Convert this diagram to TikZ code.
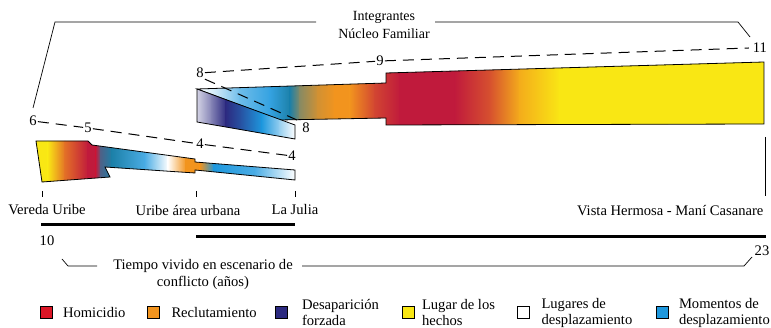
\documentclass[tikz,border=0pt]{standalone}
\usepackage{fontspec}
\setmainfont{Liberation Serif}
\usepackage{tikz}
\usetikzlibrary{positioning}
\definecolor{homC}{RGB}{220,22,38}
\definecolor{crimC}{RGB}{192,26,60}
\definecolor{recC}{RGB}{242,148,30}
\definecolor{desC}{RGB}{44,42,128}
\definecolor{hecC}{RGB}{249,231,20}
\definecolor{momC}{RGB}{30,152,222}
\definecolor{tealC}{RGB}{28,128,168}

\begin{document}
\begin{tikzpicture}[x=1pt,y=-1pt,font=\fontsize{14.6}{17}\selectfont,
  num/.style={inner sep=1pt},
  dashln/.style={dash pattern=on 11pt off 7pt,line width=1pt},
  outl/.style={draw,line width=0.8pt},
  sq/.style={draw,line width=0.6pt,minimum size=12pt,inner sep=0pt},
  legtxt/.style={align=left,inner sep=0pt,anchor=west,font=\fontsize{14.6}{16}\selectfont}]
\useasboundingbox (0,0) rectangle (771,328);
% lower band
\begin{scope}
\clip (36,141)--(88,141)--(92,145)--(195,159)--(195,162)--(295,170)--(295,180)--(195,170)--(195,173)--(105,167)--(110,177)--(42,182)--cycle;
\foreach \xa/\ca/\xb/\cb in {36/hecC/48/hecC, 48/hecC/65/recC!70!crimC, 65/recC!70!crimC/88/crimC,
  88/crimC/96/crimC, 96/crimC/101/tealC!70!crimC, 101/tealC!70!crimC/112/tealC, 112/tealC/145/momC!80!white,
  145/momC!80!white/168/white, 168/white/186/recC, 186/recC/200/recC, 200/recC/214/momC,
  214/momC/255/momC!80!white, 255/momC!80!white/295/white}
  \shade[left color=\ca,right color=\cb] (\xa-0.4,130) rectangle (\xb+0.4,190);
\end{scope}
\draw[outl] (36,141)--(88,141)--(92,145)--(195,159)--(195,162)--(295,170)--(295,180)--(195,170)--(195,173)--(105,167)--(110,177)--(42,182)--cycle;
% upper band
\begin{scope}
\clip (197,89)--(386,83)--(386,73)--(764,62)--(764,124)--(386,125)--(386,118)--(280,120)--cycle;
\foreach \xa/\ca/\xb/\cb in {197/white/215/momC!20!white, 215/momC!20!white/240/momC!65!white,
  240/momC!65!white/270/momC!90!white, 270/momC!90!white/290/tealC, 290/tealC/300/tealC!50!recC,
  300/tealC!50!recC/318/recC!85!tealC, 318/recC!85!tealC/335/recC, 335/recC/350/recC,
  350/recC/375/recC!35!crimC, 375/recC!35!crimC/400/crimC, 400/crimC/455/crimC,
  455/crimC/490/crimC!55!recC, 490/crimC!55!recC/520/recC!70!hecC, 520/recC!70!hecC/560/hecC,
  560/hecC/764/hecC}
  \shade[left color=\ca,right color=\cb] (\xa-0.4,55) rectangle (\xb+0.4,130);
\end{scope}
\draw[outl] (197,89)--(386,83)--(386,73)--(764,62)--(764,124)--(386,125)--(386,118)--(280,120)--cycle;
% desaparicion block
\begin{scope}
\clip (197,89)--(295,125)--(295,139)--(197,122)--cycle;
\foreach \xa/\ca/\xb/\cb in {197/desC!20!white/212/desC!60!white, 212/desC!60!white/226/desC,
  226/desC/242/momC!40!desC, 242/momC!40!desC/262/momC, 262/momC/280/momC!45!white, 280/momC!45!white/295/white}
  \shade[left color=\ca,right color=\cb] (\xa-0.4,85) rectangle (\xb+0.4,142);
\end{scope}
\draw[outl] (197,89)--(295,125)--(295,139)--(197,122)--cycle;

% integrantes
\node[num] (n6) at (33,121) {6};
\node[num] (n5) at (88,128) {5};
\node[num] (n4a) at (200,144) {4};
\node[num] (n4b) at (292,156) {4};
\node[num] (n8a) at (200,73) {8};
\node[num] (n9) at (380,61) {9};
\node[num] (n11) at (760,48) {11};
\node[num] (n8b) at (306,128) {8};
\draw[dashln] (n6) -- (n5) -- (n4a) -- (n4b);
\draw[dashln] (n8a) -- (n9) -- ([xshift=-3pt]n11.west);
\draw[dashln] (n8a.south east) -- (n8b.north west);

\node[align=center,font=\fontsize{14}{18}\selectfont] (integ) at (384,25) {Integrantes\\Núcleo Familiar};
\coordinate (brA) at (33,108);
\coordinate (brB) at (316,22);
\coordinate (brC) at (435,22);
\coordinate (brD) at (750,37);
\draw[line width=0.7pt] (brA) -- (55,22) -- (brB);
\draw[line width=0.7pt] (brC) -- (738,22) -- (brD);

% lugares
\node (vereda) at (47,210) {Vereda Uribe};
\node (urbana) at (188,210) {Uribe área urbana};
\node (julia) at (295,210) {La Julia};
\node[anchor=east] (vista) at (767,211) {Vista Hermosa - Maní Casanare};
\foreach \x in {42,196,295}
  \draw[line width=0.7pt] (\x,191) -- (\x,197);
\draw[line width=0.7pt] (765,137) -- (765,196);

% tiempo
\draw[line width=3pt] (41,225) -- (295,225);
\draw[line width=3pt] (196,237) -- (766,237);
\node (t10) at (47,241) {10};
\node (t23) at (762,251) {23};
\node[align=center] (tiempo) at (203,274) {Tiempo vivido en escenario de\\conflicto (años)};
\coordinate (tbA) at (62,259);
\coordinate (tbB) at (97,266);
\coordinate (tbC) at (302,266);
\coordinate (tbD) at (752,257);
\draw[line width=0.7pt] (tbA) -- (68,266) -- (tbB);
\draw[line width=0.7pt] (tbC) -- (744,266) -- (tbD);

% leyenda
\node[sq,fill=homC] (sqhom) at (46.5,312.5) {};
\node[legtxt,right=10pt of sqhom] (thom) {Homicidio};
\node[sq,fill=recC] (sqrec) at (153,312.5) {};
\node[legtxt,right=12pt of sqrec] (trec) {Reclutamiento};
\node[sq,fill=desC] (sqdes) at (281.5,312.5) {};
\node[legtxt,right=14pt of sqdes] (tdes) {Desaparición\\forzada};
\node[sq,fill=hecC] (sqhec) at (408.5,312.5) {};
\node[legtxt,right=7pt of sqhec] (thec) {Lugar de los\\hechos};
\node[sq,fill=white] (sqdpl) at (523,312.5) {};
\node[legtxt,right=12pt of sqdpl] (tdpl) {Lugares de\\desplazamiento};
\node[sq,fill=momC] (sqmom) at (662.5,312.5) {};
\node[legtxt,right=10pt of sqmom] (tmom) {Momentos de\\desplazamiento};
\end{tikzpicture}
\end{document}
